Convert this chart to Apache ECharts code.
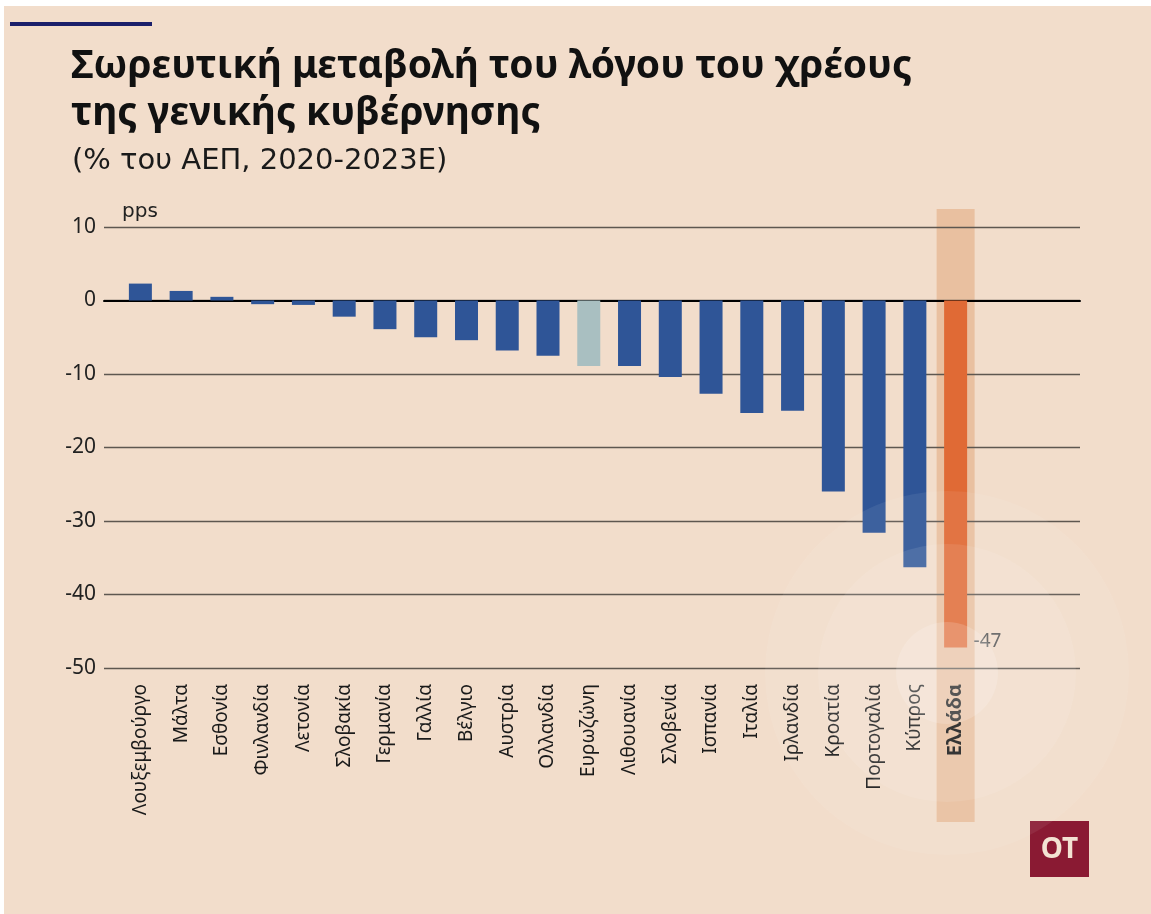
<!DOCTYPE html>
<html>
<head>
<meta charset="utf-8">
<script src="https://cdn.jsdelivr.net/npm/echarts@6/dist/echarts.min.js"></script>
<style>
  html, body { margin: 0; padding: 0; background: #fff; }
  #chart { position: absolute; left: 4px; top: 6px; width: 1147px; height: 908px; }
</style>
</head>
<body>
<div id="chart"></div>
<script>
// Cumulative change in general government debt ratio, pps of GDP, 2020-2023E
const countries = ['Λουξεμβούργο', 'Μάλτα', 'Εσθονία', 'Φινλανδία', 'Λετονία', 'Σλοβακία',
  'Γερμανία', 'Γαλλία', 'Βέλγιο', 'Αυστρία', 'Ολλανδία', 'Ευρωζώνη', 'Λιθουανία',
  'Σλοβενία', 'Ισπανία', 'Ιταλία', 'Ιρλανδία', 'Κροατία', 'Πορτογαλία', 'Κύπρος', 'Ελλάδα'];
const changes = [2.3, 1.3, 0.5, -0.5, -0.6, -2.2, -3.9, -5.0, -5.4, -6.8, -7.5, -8.9, -8.9,
  -10.4, -12.7, -15.3, -15.0, -26.0, -31.6, -36.3, -47.2];
const yTicks = { min: -50, max: 10, step: 10 };

const AREA = 'Ευρωζώνη';
const HOME = 'Ελλάδα';
const C_BLUE = '#2f5597';
const C_AREA = '#a9bfc1';
const C_HOME = '#e06a35';
const OX = 4, OY = 6; // container offset

const el = document.getElementById('chart');
const chart = echarts.init(el);
const FONT = '"Noto Sans", "Open Sans", sans-serif';
const FONT2 = '"DejaVu Sans", "Noto Sans", sans-serif';

const barData = changes.map((v, i) => {
  const name = countries[i];
  let color = C_BLUE;
  if (name === AREA) color = C_AREA;
  if (name === HOME) color = C_HOME;
  return { value: v, itemStyle: { color } };
});

const gridTop = 227 - OY, gridBottom = 908 - (668 - OY);

chart.setOption({
  backgroundColor: '#f2ddcb',
  animation: false,
  textStyle: { fontFamily: FONT },
  title: [
    {
      text: 'Σωρευτική μεταβολή του λόγου του χρέους\nτης γενικής κυβέρνησης',
      left: 66 - OX, top: 38 - OY,
      textStyle: { fontSize: 39, fontWeight: 'bold', color: '#111', lineHeight: 47, fontFamily: FONT }
    },
    {
      text: '(% του ΑΕΠ, 2020-2023Ε)',
      left: 67 - OX, top: 142 - OY,
      textStyle: { fontSize: 29, fontWeight: 'normal', color: '#1a1a1a', fontFamily: FONT2 }
    },
    {
      text: 'pps',
      left: 117 - OX, top: 197 - OY,
      textStyle: { fontSize: 20, fontWeight: 'normal', color: '#222', fontFamily: FONT2 }
    }
  ],
  grid: [
    // gridlines, full width
    { left: 104 - OX, right: 1151 - 1080, top: gridTop, bottom: gridBottom },
    // bars
    { left: 120 - OX, width: 856, top: gridTop, bottom: gridBottom }
  ],
  xAxis: [
    {
      gridIndex: 0, type: 'value', min: 0, max: 1,
      axisLine: { show: true, onZero: true, lineStyle: { color: '#000', width: 2 } },
      axisTick: { show: false }, axisLabel: { show: false }, splitLine: { show: false }
    },
    {
      gridIndex: 1, type: 'category', data: countries,
      axisLine: { show: false }, axisTick: { show: false },
      axisLabel: {
        interval: 0, rotate: 90, margin: 16, fontSize: 19, color: '#1a1a1a',
        formatter: (v) => v === HOME ? '{b|' + v + '}' : v,
        rich: { b: { fontWeight: 'bold', fontSize: 20, color: '#111' } }
      }
    }
  ],
  yAxis: [
    {
      gridIndex: 0, type: 'value', min: yTicks.min, max: yTicks.max, interval: yTicks.step,
      axisLine: { show: false }, axisTick: { show: false },
      axisLabel: { fontSize: 21, color: '#222', margin: 8 },
      splitLine: { lineStyle: { color: '#5e5750', width: 1.3 } }
    },
    {
      gridIndex: 1, type: 'value', min: yTicks.min, max: yTicks.max, interval: yTicks.step,
      show: false, splitLine: { show: false }
    }
  ],
  series: [
    {
      type: 'bar', xAxisIndex: 1, yAxisIndex: 1,
      data: barData, barWidth: 23, z: 3,
      markPoint: {
        symbol: 'circle', symbolSize: 0,
        data: [{ coord: [HOME, changes[countries.indexOf(HOME)]] }],
        label: {
          show: true, position: 'right', distance: 0, offset: [18, -6],
          fontSize: 19, color: '#555',
          formatter: () => String(Math.round(changes[countries.indexOf(HOME)]))
        }
      }
    }
  ]
});

// highlight band behind Greece + faint watermark circles
const hx = chart.convertToPixel({ xAxisIndex: 1 }, HOME);
chart.setOption({
  graphic: [
    {
      type: 'rect', z: -10, silent: true,
      shape: { x: hx - 19, y: 209 - OY, width: 38, height: 822 - 209 },
      style: { fill: '#e9c0a0' }
    },
    {
      type: 'circle', z: 20, silent: true,
      shape: { cx: 947 - OX, cy: 673 - OY, r: 182 },
      style: { fill: 'rgba(255,255,255,0.07)' }
    },
    {
      type: 'circle', z: 20, silent: true,
      shape: { cx: 947 - OX, cy: 673 - OY, r: 129 },
      style: { fill: 'rgba(255,255,255,0.09)' }
    },
    {
      type: 'circle', z: 20, silent: true,
      shape: { cx: 947 - OX, cy: 673 - OY, r: 51 },
      style: { fill: 'rgba(255,255,255,0.16)' }
    },
    {
      type: 'rect', z: 5, silent: true,
      shape: { x: 10 - OX, y: 22 - OY, width: 142, height: 4 },
      style: { fill: '#1b1f6b' }
    },
    {
      type: 'group', z: 25, silent: true,
      x: 1030 - OX, y: 821 - OY,
      children: [
        { type: 'rect', shape: { x: 0, y: 0, width: 59, height: 56 }, style: { fill: '#8a1a33' } },
        {
          type: 'text', x: 29.5, y: 29,
          style: {
            text: 'OT', fill: '#f3e3d3', font: 'bold 28px ' + FONT,
            textAlign: 'center', textVerticalAlign: 'middle'
          }
        }
      ]
    }
  ]
});
</script>
</body>
</html>
